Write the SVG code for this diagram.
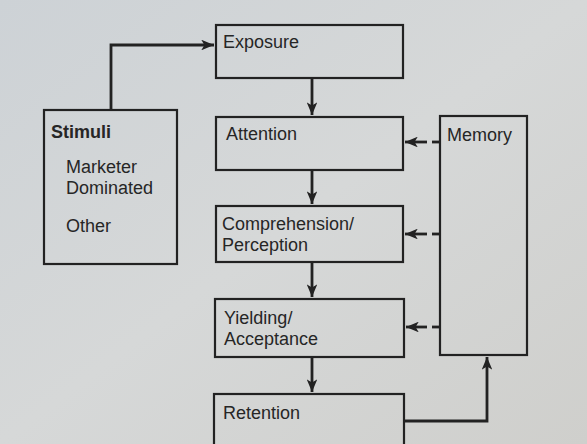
<svg xmlns="http://www.w3.org/2000/svg" width="587" height="444" viewBox="0 0 587 444">
<defs>
<linearGradient id="bg" x1="0" y1="0" x2="1" y2="1">
<stop offset="0" stop-color="#cdd2d6"/>
<stop offset="0.5" stop-color="#d6d8d8"/>
<stop offset="1" stop-color="#cfcfcc"/>
</linearGradient>
<marker id="ah" viewBox="0 0 12 10" refX="12" refY="5" markerWidth="4.6" markerHeight="3.8" markerUnits="strokeWidth" orient="auto">
<path d="M0,0 L12,5 L0,10 L3,5 z" fill="#222"/>
</marker>
<style>
.box{fill:none;stroke:#222;stroke-width:2.2}
.ln{fill:none;stroke:#222;stroke-width:2.8}
.t{font-family:"Liberation Sans",Arial,sans-serif;font-size:18px;fill:#262626}
.b{font-weight:bold}
</style>
</defs>
<rect width="587" height="444" fill="url(#bg)"/>
<g id="connectors">
<polyline class="ln" points="111,110 111,45 214,45" marker-end="url(#ah)"/>
<line class="ln" x1="312" y1="78" x2="312" y2="115" marker-end="url(#ah)"/>
<line class="ln" x1="312" y1="170" x2="312" y2="204" marker-end="url(#ah)"/>
<line class="ln" x1="312" y1="262" x2="312" y2="297" marker-end="url(#ah)"/>
<line class="ln" x1="312" y1="357" x2="312" y2="392" marker-end="url(#ah)"/>
<polyline class="ln" points="404,421 487,421 487,357" marker-end="url(#ah)"/>
<line class="ln" x1="440" y1="142" x2="432" y2="142"/>
<line class="ln" x1="427" y1="142" x2="405" y2="142" marker-end="url(#ah)"/>
<line class="ln" x1="440" y1="234" x2="432" y2="234"/>
<line class="ln" x1="427" y1="234" x2="405" y2="234" marker-end="url(#ah)"/>
<line class="ln" x1="440" y1="327" x2="432" y2="327"/>
<line class="ln" x1="427" y1="327" x2="406" y2="327" marker-end="url(#ah)"/>
</g>
<g id="stimuli">
<rect class="box" x="44" y="110" width="133" height="154"/>
<text class="t b" x="51" y="138">Stimuli</text>
<text class="t" x="66" y="173" font-size="19">Marketer</text>
<text class="t" x="66" y="194" font-size="19">Dominated</text>
<text class="t" x="66" y="232" font-size="19">Other</text>
</g>
<g id="exposure">
<rect class="box" x="216" y="25" width="187" height="53"/>
<text class="t" x="223" y="48">Exposure</text>
</g>
<g id="attention">
<rect class="box" x="216" y="117" width="187" height="53"/>
<text class="t" x="226" y="140">Attention</text>
</g>
<g id="comprehension">
<rect class="box" x="216" y="206" width="187" height="56"/>
<text class="t" x="222" y="230">Comprehension/</text>
<text class="t" x="222" y="251">Perception</text>
</g>
<g id="yielding">
<rect class="box" x="215" y="299" width="189" height="58"/>
<text class="t" x="224" y="324">Yielding/</text>
<text class="t" x="224" y="345">Acceptance</text>
</g>
<g id="retention">
<rect class="box" x="214" y="394" width="190" height="60"/>
<text class="t" x="223" y="419">Retention</text>
</g>
<g id="memory">
<rect class="box" x="440" y="116" width="87" height="239"/>
<text class="t" x="447" y="141">Memory</text>
</g>
</svg>
